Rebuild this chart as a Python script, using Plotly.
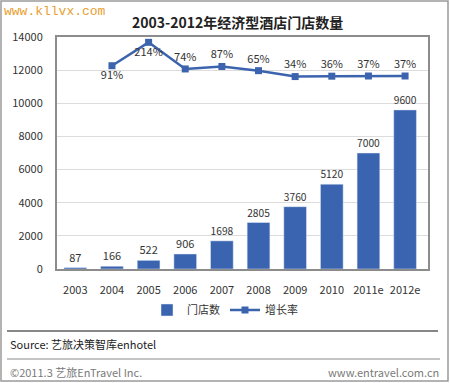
import plotly.graph_objects as go

years = ["2003", "2004", "2005", "2006", "2007", "2008", "2009", "2010", "2011e", "2012e"]
stores = [87, 166, 522, 906, 1698, 2805, 3760, 5120, 7000, 9600]
growth_years = ["2004", "2005", "2006", "2007", "2008", "2009", "2010", "2011e", "2012e"]
growth = [91, 214, 74, 87, 65, 34, 36, 37, 37]
growth_labels = [f"{g}%" for g in growth]
growth_pos = ["bottom center", "bottom center"] + ["top center"] * 7

W, H = 450, 383
L, R, T, B = 57, 428, 37, 269

def px_x(x):
    return (x - L) / (R - L)

def px_y(y):
    return (B - y) / (B - T)

FONT = "Noto Sans CJK SC, Noto Sans, sans-serif"
BLUE = "#3A63B0"

fig = go.Figure()
fig.add_trace(go.Bar(
    x=years, y=stores, name="门店数", marker_color=BLUE,
    text=[str(v) for v in stores], textposition="outside",
    textfont=dict(size=11, color="#333333"), cliponaxis=False,
))
fig.add_trace(go.Scatter(
    x=growth_years, y=growth, name="增长率", yaxis="y2",
    mode="lines+markers+text", line=dict(color="#3C64AE", width=2.5),
    marker=dict(symbol="square", size=7, color="#3C64AE"),
    text=growth_labels, textposition=growth_pos,
    textfont=dict(size=11, color="#333333"), cliponaxis=False,
))

shapes = [
    dict(type="rect", xref="paper", yref="paper", x0=px_x(1), x1=px_x(448), y0=px_y(1), y1=px_y(381),
         line=dict(color="#9a9a9a", width=1.5), fillcolor="rgba(0,0,0,0)", layer="below"),
    dict(type="line", xref="paper", yref="paper", x0=px_x(7), x1=px_x(438), y0=px_y(331), y1=px_y(331),
         line=dict(color="#111111", width=1.2)),
    dict(type="line", xref="paper", yref="paper", x0=px_x(7), x1=px_x(440), y0=px_y(359), y1=px_y(359),
         line=dict(color="#8a8a8a", width=1.2)),
]

annotations = [
    dict(text="www.kllvx.com", xref="paper", yref="paper", x=px_x(2), y=px_y(11),
         xanchor="left", yanchor="middle", showarrow=False,
         font=dict(family="Liberation Mono, DejaVu Sans Mono, monospace", size=13, color="#E8A030")),
    dict(text="<b>2003-2012年经济型酒店门店数量</b>", xref="paper", yref="paper", x=px_x(237), y=px_y(22),
         xanchor="center", yanchor="middle", showarrow=False,
         font=dict(family=FONT, size=14, color="#222222")),
    dict(text="Source: 艺旅决策智库enhotel", xref="paper", yref="paper", x=px_x(8), y=px_y(344),
         xanchor="left", yanchor="middle", showarrow=False,
         font=dict(family=FONT, size=11, color="#222222")),
    dict(text="©2011.3 艺旅EnTravel Inc.", xref="paper", yref="paper", x=px_x(8), y=px_y(372),
         xanchor="left", yanchor="middle", showarrow=False,
         font=dict(family=FONT, size=11, color="#7a7a7a")),
    dict(text="www.entravel.com.cn", xref="paper", yref="paper", x=px_x(441), y=px_y(372),
         xanchor="right", yanchor="middle", showarrow=False,
         font=dict(family=FONT, size=11, color="#7a7a7a")),
]

fig.update_layout(
    width=W, height=H,
    margin=dict(l=L, r=W - R, t=T, b=H - B, autoexpand=False),
    paper_bgcolor="white", plot_bgcolor="white",
    font=dict(family=FONT, size=11, color="#333333"),
    bargap=0.38,
    showlegend=True,
    legend=dict(orientation="h", x=px_x(225), y=px_y(310), xanchor="center", yanchor="middle",
                font=dict(size=11, color="#333333"), itemwidth=30, traceorder="normal"),
    xaxis=dict(showline=True, linecolor="#8c8c8c", linewidth=2, mirror=True,
               ticks="", ticklabelstandoff=10, tickfont=dict(size=11, color="#333333")),
    yaxis=dict(range=[0, 14000], dtick=2000, tickformat="d", showgrid=True, gridcolor="#dcdcdc", gridwidth=1,
               showline=True, linecolor="#8c8c8c", linewidth=2, mirror=True,
               ticks="", ticklabelstandoff=10, tickfont=dict(size=11, color="#333333"),
               zeroline=False),
    yaxis2=dict(overlaying="y", side="right", range=[-977.5, 242], visible=False, showgrid=False),
    shapes=shapes,
    annotations=annotations,
)

fig.write_html("out.html", config={"displayModeBar": False},
               post_script="document.body.style.margin='0';")
